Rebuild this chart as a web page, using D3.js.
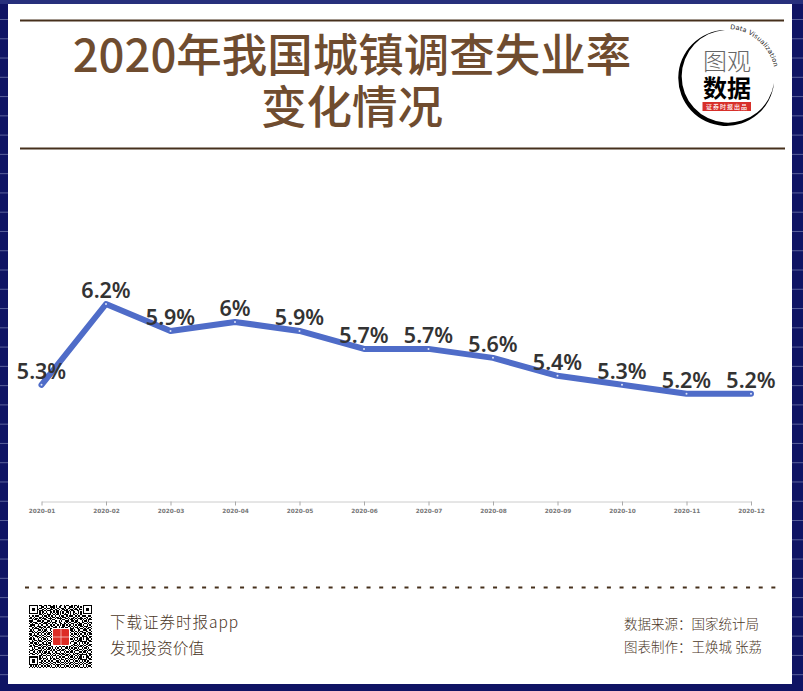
<!DOCTYPE html>
<html>
<head>
<meta charset="utf-8">
<script src="https://cdn.jsdelivr.net/npm/d3@7"></script>
<style>
  html, body { margin: 0; padding: 0; background: #0f1464; }
  svg { display: block; }
  svg { font-family: "Noto Sans CJK SC", "Noto Sans", sans-serif; }
</style>
</head>
<body>
<svg></svg>
<script>
// chart data
const months = ["2020-01", "2020-02", "2020-03", "2020-04", "2020-05", "2020-06",
                "2020-07", "2020-08", "2020-09", "2020-10", "2020-11", "2020-12"];
const rates = [5.3, 6.2, 5.9, 6, 5.9, 5.7, 5.7, 5.6, 5.4, 5.3, 5.2, 5.2];

const titleLines = ["2020年我国城镇调查失业率", "变化情况"];

// QR picture in the footer, one string per module row
const qrRows = [
  "1111111011001101100101001101011001011010001111111",
  "1000001001110100111101011001100111010110101000001",
  "1011101011001011010100100110101100101001001011101",
  "1011101100110100111011010011010011011101101011101",
  "1011101011101011100101100101110101100110001011101",
  "1000001010110100110101101010011010110010101000001",
  "1111111010101010101010101010101010101010101111111",
  "0000000011010011100101101001110010110100100000000",
  "1011011100101101011010010110010111001011011100110",
  "0100100011010110101101101011101000110100100011001",
  "1101011010111001110010111100110101101011110101010",
  "0010110101001100101100001011001011010100101010111",
  "1110001110110011010011010100111001101100010110100",
  "0101110001101110101110011001010110011011011001011",
  "1010011010011101001011001101101001100101100110101",
  "0111100101100110110100101011010110101011101001010",
  "1100101110011001011011010011001101010100110111001",
  "0011010011101011000111010110110010101101001010110",
  "1010111101010100111000110101001011100110110101101",
  "0101000110101100100101101001011011010011001110010",
  "1110101001011010011010010110100101101010110011001",
  "0011010110110101100101001011010010010101011100110",
  "1100101101001011010010110100101101011010100101011",
  "0101110010110100101101001011010010100101011010100",
  "1010011101001011010010110101001101010011011110011",
  "0101001010110100101001011010110100101100101011010",
  "1101100101011010010110100101001011010101101011101",
  "0010110110100101101001011010110100101011100010110",
  "1011001011001010010110100101101001100110111110011",
  "0110110100110101101001011010010110011001010101100",
  "1001011011011110101101001010110100110101001011011",
  "0101100110100101100110110100101001011010110100110",
  "1100111001011010011001011011010110100101101011001",
  "0010100110110101101010100100110101011010010110100",
  "1011011001001011010101011011001010110101101001011",
  "0110100111010100110100110110100101001110010110110",
  "1001101010101101001011001001011011010001101101001",
  "0110010101011011100101110110100100101110010010110",
  "1011101001100100101010011011011010110101111110011",
  "0000000011011011010110100100110101001010100011010",
  "1111111010100100101001011011001011010101101011101",
  "1000001011011010110101100100110100101011100010110",
  "1011101010010110100110010110101011010010111110011",
  "1011101001101001011001101001010100101101010101100",
  "1011101011010110100110110110101011010010101011011",
  "1000001001101001011010001001010110101101010100110",
  "1111111010010110100101110110100101010010101011001",
  "0101010101101011010010101001011010101101001010110",
  "1010101010010100101101010110100101010010110101001"
];

// Declare the dimensions.
const width = 803;
const height = 691;
const marginLeft = 41.5;
const marginRight = 52;
const axisY = 501.5;

const svg = d3.select("svg")
    .attr("width", width)
    .attr("height", height)
    .attr("viewBox", [0, 0, width, height]);

// Striped navy background and the white card.
svg.append("rect").attr("width", width).attr("height", height).attr("fill", "#0f1464");
svg.append("rect").attr("width", width).attr("height", 4).attr("fill", "#27307c");
svg.append("g")
  .selectAll("line")
  .data(d3.range(19.5, height, 19.27))
  .join("line")
    .attr("x1", 0)
    .attr("x2", width)
    .attr("y1", d => d)
    .attr("y2", d => d)
    .attr("stroke", "#59609a")
    .attr("stroke-width", 1);
svg.append("rect")
    .attr("x", 8).attr("y", 4)
    .attr("width", 784).attr("height", 680)
    .attr("fill", "#fff");

// Header rules and title.
svg.append("g")
  .selectAll("line")
  .data([[20, 784, 20.5], [20, 785, 148.5]])
  .join("line")
    .attr("x1", d => d[0])
    .attr("x2", d => d[1])
    .attr("y1", d => d[2])
    .attr("y2", d => d[2])
    .attr("stroke", "#46301c")
    .attr("stroke-width", 2);

svg.append("g")
  .selectAll("text")
  .data(titleLines)
  .join("text")
    .attr("x", 352)
    .attr("y", (d, i) => 72 + i * 52)
    .attr("text-anchor", "middle")
    .attr("font-size", 45.5)
    .attr("font-weight", 500)
    .attr("fill", "#6f4c2f")
    .text(d => d);

// Logo.
const logo = svg.append("g");
logo.append("path")
    .attr("d", "M725 30A48 48 0 1 0 774 83A46.4 46.4 0 1 1 725 30Z")
    .attr("fill", "#000");
logo.append("path")
    .attr("id", "logoArc")
    .attr("d", "M730 29A49 49 0 0 1 775 72")
    .attr("fill", "none");
logo.append("text")
    .style("font-family", "'DejaVu Sans'")
    .attr("font-size", 6.5)
    .attr("letter-spacing", 0.2)
    .attr("fill", "#222")
    .append("textPath")
    .attr("href", "#logoArc")
    .text("Data Visualization");
logo.append("text")
    .attr("x", 727).attr("y", 70)
    .attr("text-anchor", "middle")
    .attr("font-size", 24)
    .attr("font-weight", 200)
    .attr("fill", "#666")
    .text("图观");
logo.append("text")
    .attr("x", 727).attr("y", 97)
    .attr("text-anchor", "middle")
    .attr("font-size", 24)
    .attr("font-weight", 700)
    .attr("fill", "#000")
    .text("数据");
logo.append("rect")
    .attr("x", 702.5).attr("y", 102)
    .attr("width", 48.5).attr("height", 9)
    .attr("fill", "#d7302a");
logo.append("text")
    .attr("x", 727).attr("y", 109)
    .attr("text-anchor", "middle")
    .attr("font-size", 6)
    .attr("font-weight", 500)
    .attr("letter-spacing", 1)
    .attr("fill", "#fff")
    .text("证券时报出品");

// Declare the x (horizontal position) scale.
const x = d3.scalePoint(months, [marginLeft, width - marginRight]);

// Declare the y (vertical position) scale.
const y = d3.scaleLinear([4, 6.2], [axisY, 304]);

// Add the x-axis.
svg.append("g")
    .attr("transform", `translate(0,${axisY})`)
    .call(d3.axisBottom(x).tickSize(4).tickSizeOuter(0).tickPadding(3))
    .call(g => g.select(".domain").attr("stroke", "#ccc"))
    .call(g => g.selectAll(".tick line").attr("stroke", "#aaa"))
    .call(g => g.selectAll(".tick text")
        .style("font-family", "'DejaVu Sans'")
        .attr("font-size", 5.8)
        .attr("font-weight", 700)
        .attr("fill", "#777"));

// Declare the line generator.
const line = d3.line()
    .x((d, i) => x(months[i]))
    .y(d => y(d));

svg.append("path")
    .datum(rates)
    .attr("d", line)
    .attr("fill", "none")
    .attr("stroke", "#4f6cc8")
    .attr("stroke-width", 6)
    .attr("stroke-linejoin", "round")
    .attr("stroke-linecap", "round");

svg.append("g")
  .selectAll("circle")
  .data(rates)
  .join("circle")
    .attr("cx", (d, i) => x(months[i]))
    .attr("cy", d => y(d))
    .attr("r", 1)
    .attr("fill", "#dfe5f7");

// Value labels.
svg.append("g")
  .selectAll("text")
  .data(rates)
  .join("text")
    .attr("x", (d, i) => x(months[i]))
    .attr("y", d => y(d) - 6)
    .attr("text-anchor", "middle")
    .style("font-family", "'Noto Sans'")
    .attr("font-size", 21.5)
    .attr("font-weight", 600)
    .attr("fill", "#333")
    .text(d => d + "%");

// Footer.
svg.append("line")
    .attr("x1", 25).attr("x2", 780)
    .attr("y1", 587.5).attr("y2", 587.5)
    .attr("stroke", "#46301c")
    .attr("stroke-width", 2)
    .attr("stroke-dasharray", "4 8.65");

const qrCell = 63 / qrRows.length;
const qr = svg.append("g").attr("transform", "translate(29,605)");
qr.append("g")
  .selectAll("g")
  .data(qrRows)
  .join("g")
    .attr("transform", (d, i) => `translate(0,${i * qrCell})`)
  .selectAll("rect")
  .data(d => Array.from(d))
  .join("rect")
    .attr("x", (d, i) => i * qrCell)
    .attr("width", qrCell)
    .attr("height", qrCell)
    .attr("fill", d => d === "1" ? "#000" : "#fff")
    .attr("shape-rendering", "crispEdges");
qr.append("rect")
    .attr("x", 23).attr("y", 23)
    .attr("width", 18).attr("height", 18)
    .attr("fill", "#fff");
qr.append("rect")
    .attr("x", 24).attr("y", 24)
    .attr("width", 16).attr("height", 16)
    .attr("rx", 1)
    .attr("fill", "#dd2c26");
qr.append("path")
    .attr("d", "M32 24V40M24 32H40")
    .attr("stroke", "#f7c9c5")
    .attr("stroke-width", 0.8);

const footerText = svg.append("g").attr("fill", "#4a3626").attr("font-weight", 300);
footerText.append("text")
    .attr("x", 110).attr("y", 628)
    .attr("font-size", 15.5)
    .attr("letter-spacing", 1)
    .text("下载证券时报app");
footerText.append("text")
    .attr("x", 110).attr("y", 654)
    .attr("font-size", 15.7)
    .text("发现投资价值");
footerText.append("text")
    .attr("x", 624).attr("y", 629)
    .attr("font-size", 13.5)
    .text("数据来源：国家统计局");
footerText.append("text")
    .attr("x", 624).attr("y", 652)
    .attr("font-size", 13.5)
    .text("图表制作：王焕城 张荔");
</script>
</body>
</html>
